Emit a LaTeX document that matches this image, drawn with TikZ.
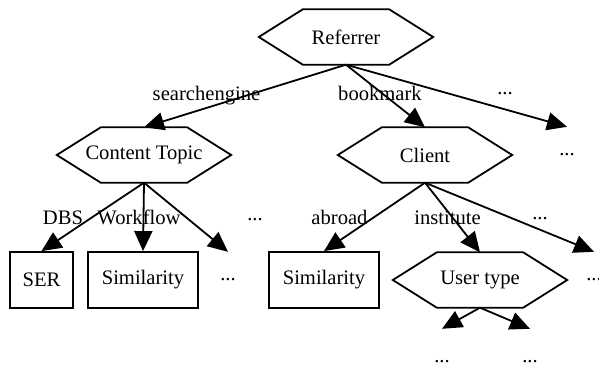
\documentclass[tikz,border=0pt]{standalone}
\usepackage{fontspec}
\setmainfont{Liberation Serif}
\usetikzlibrary{arrows.meta}
\newcommand\hexout[1]{\draw[hexline] (#1.west) -- ([xshift=44pt]#1.north west) -- ([xshift=-44pt]#1.north east) -- (#1.east) -- ([xshift=-44pt]#1.south east) -- ([xshift=44pt]#1.south west) -- cycle;}
\begin{document}
\begin{tikzpicture}[x=1pt,y=-1pt,
  every node/.style={font=\fontsize{20.6}{24}\selectfont, inner sep=0pt},
  hexa/.style={rectangle, minimum width=174pt, minimum height=55pt},
  hexline/.style={line width=1.8pt, line join=miter},
  box/.style={draw, line width=1.8pt, rectangle, minimum height=56pt},
  dots/.style={minimum height=56pt},
  lbl/.style={anchor=base},
  arr/.style={line width=1.8pt, -{Triangle[length=20pt,width=18pt]}}]
\useasboundingbox (0,0) rectangle (599,369);
% main nodes
\node[hexa] (ref) at (346,37) {Referrer};
\node[hexa] (ct) at (144,155) {Content Topic};
\node[hexa] (cl) at (425,155) {Client};
\node[dots] (d1) at (567,155) {...};
\node[box, minimum width=63pt] (ser) at (41.5,280) {SER};
\node[box, minimum width=110pt] (sim1) at (143,280) {Similarity};
\node[dots] (d2) at (228,280) {...};
\node[box, minimum width=110pt] (sim2) at (324,280) {Similarity};
\node[hexa] (ut) at (480,280) {User type};
\node[dots] (d3) at (594,280) {...};
\node[dots, minimum height=66pt] (d4) at (442,362) {...};
\node[dots, minimum height=66pt] (d5) at (530,362) {...};
\hexout{ref}
\hexout{ct}
\hexout{cl}
\hexout{ut}
% edge labels
\node[lbl] (lse) at (206.5,100) {searchengine};
\node[lbl] (lbm) at (380,100) {bookmark};
\node (l1) at (505,94) {...};
\node[lbl] (ldbs) at (63,224) {DBS};
\node[lbl] (lwf) at (139,224) {Workflow};
\node (l2) at (255,220) {...};
\node[lbl] (lab) at (339.5,224) {abroad};
\node[lbl] (lin) at (447.5,224) {institute};
\node (l3) at (540,219) {...};
% edges
\draw[arr] (ref.south) -- (ct.north);
\draw[arr] (ref.south) -- (cl.north);
\draw[arr] (ref.south) -- (d1.north);
\draw[arr] (ct.south) -- (ser.north);
\draw[arr] (ct.south) -- (sim1.north);
\draw[arr] (ct.south) -- (d2.north);
\draw[arr] (cl.south) -- (sim2.north);
\draw[arr] (cl.south) -- (ut.north);
\draw[arr] (cl.south) -- (d3.north);
\draw[arr] (ut.south) -- (d4.north);
\draw[arr] (ut.south) -- (d5.north);
\end{tikzpicture}
\end{document}
